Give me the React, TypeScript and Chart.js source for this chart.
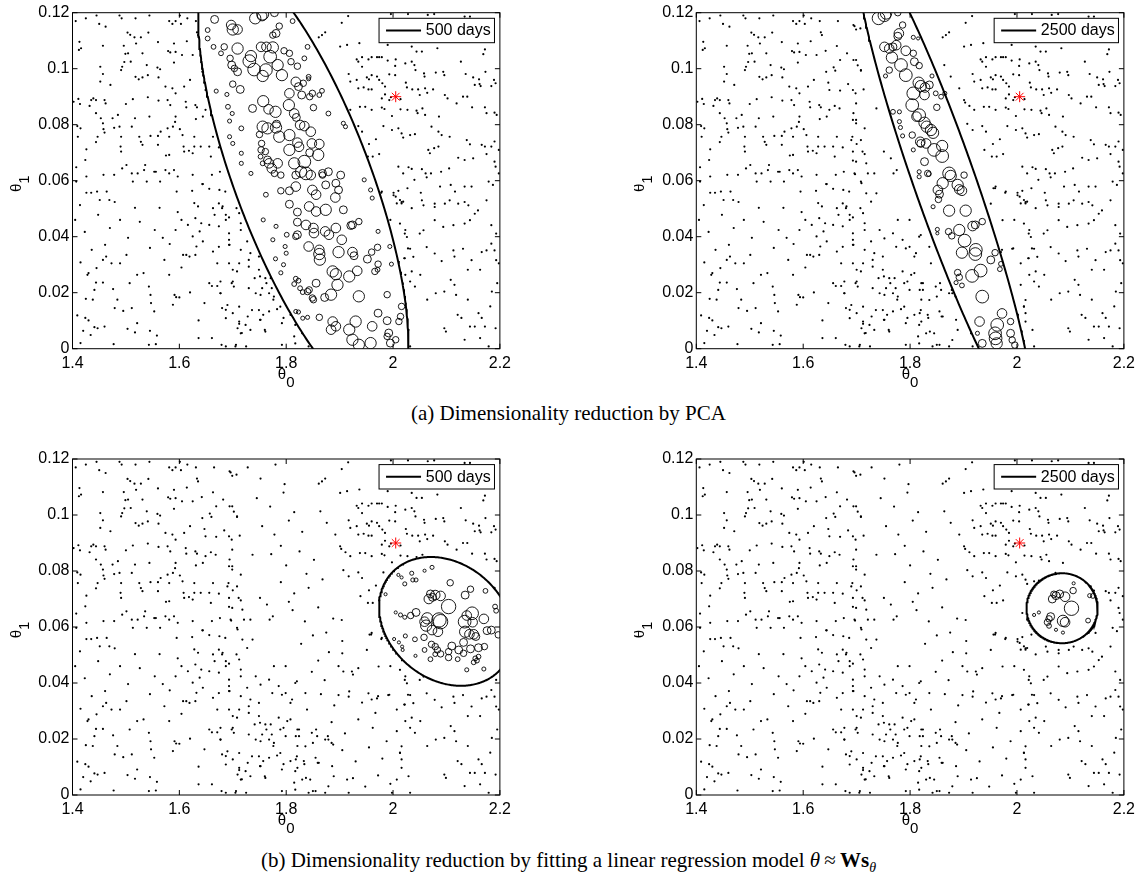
import React, { useEffect, useRef } from "react";
import { Chart, registerables } from "chart.js";
Chart.register(...registerables);

// ---------- axes ----------
const X_RANGE = [1.4, 2.2];
const Y_RANGE = [0, 0.12];
const X_STEP = 0.2;
const Y_STEP = 0.02;

// ---------- prior samples (shared by all panels) [theta0, theta1] ----------
const PRIOR_SAMPLES: number[][] = [
  [1.406,.117],[1.425,.118],[1.445,.119],[1.450,.116],[1.462,.115],[1.488,.119],[1.492,.118],[1.518,.118],[1.544,.119],[1.581,.117],[1.587,.116],[1.593,.117],[1.601,.119],[1.603,.116],[1.615,.118],[1.631,.117],[1.633,.113],[1.635,.112],[1.665,.117],[1.694,.1156],[1.699,.114],[1.707,.1144],
  [1.413,.1096],[1.416,.1073],[1.412,.1067],[1.457,.1082],[1.496,.1082],[1.503,.1129],[1.508,.1121],[1.516,.1112],[1.528,.1112],[1.542,.1129],[1.499,.1053],[1.504,.1055],[1.519,.109],[1.531,.1055],[1.560,.1095],[1.579,.1063],[1.583,.1058],[1.590,.109],[1.593,.106],[1.590,.1022],[1.605,.1049],[1.614,.1098],[1.625,.1049],[1.642,.1064],[1.663,.1081],[1.669,.1031],[1.682,.1055],[1.694,.1031],[1.702,.1012],[1.708,.0993],[1.657,.1005],[1.660,.0993],
  [1.452,.1007],[1.457,.0981],[1.452,.0954],[1.471,.0942],[1.491,.0995],[1.493,.1007],[1.497,.1024],[1.509,.1025],[1.518,.0971],[1.524,.0962],[1.531,.0969],[1.541,.0977],[1.539,.1013],[1.559,.1004],[1.564,.0998],[1.561,.0969],[1.574,.0936],[1.587,.093],[1.593,.0912],[1.609,.0936],[1.620,.096],[1.643,.0989],[1.647,.095],[1.649,.0924],[1.669,.0922],[1.684,.0945],[1.713,.0926],
  [1.402,.0882],[1.411,.0892],[1.414,.0874],[1.435,.0888],[1.432,.0867],[1.439,.0894],[1.444,.0888],[1.460,.0888],[1.462,.0876],[1.444,.0841],[1.453,.0823],[1.475,.0823],[1.485,.0835],[1.488,.0793],[1.500,.0874],[1.513,.0891],[1.517,.0823],[1.541,.0898],[1.544,.0829],[1.561,.0886],[1.578,.0888],[1.583,.087],[1.593,.0829],[1.592,.081],[1.612,.0882],[1.613,.0862],[1.630,.087],[1.633,.0862],[1.631,.082],[1.649,.0853],[1.659,.0867],[1.668,.0858],[1.694,.0841],[1.699,.0817],[1.737,.0858],
  [1.410,.0757],[1.409,.0795],[1.415,.0787],[1.426,.0712],[1.444,.0738],[1.447,.0757],[1.457,.0805],[1.458,.0784],[1.460,.0772],[1.478,.0789],[1.491,.0757],[1.490,.0722],[1.491,.0704],[1.511,.0793],[1.525,.0757],[1.528,.0739],[1.531,.0728],[1.546,.076],[1.560,.076],[1.565,.0775],[1.560,.0728],[1.578,.0787],[1.581,.0757],[1.588,.0793],[1.601,.0784],[1.606,.0763],[1.608,.0722],[1.618,.0707],[1.628,.0757],[1.628,.0722],[1.640,.0722],[1.644,.0829],[1.656,.0722],[1.663,.0757],[1.674,.0719],[1.692,.0757],[1.700,.0731],[1.715,.0787],
  [1.407,.0648],[1.424,.0674],[1.407,.0597],[1.426,.0615],[1.458,.0621],[1.478,.0621],[1.464,.0561],[1.469,.0531],[1.426,.0557],[1.435,.0557],[1.446,.0561],[1.493,.0644],[1.501,.0656],[1.511,.0626],[1.513,.0597],[1.522,.0626],[1.534,.0638],[1.536,.0656],[1.539,.0597],[1.553,.0632],[1.556,.0632],[1.564,.0597],[1.574,.0638],[1.581,.0626],[1.581,.0692],[1.575,.069],[1.590,.0638],[1.597,.0615],[1.595,.0561],[1.609,.0704],[1.625,.0698],[1.625,.0621],[1.643,.0588],[1.659,.0686],[1.661,.0621],[1.676,.0632],[1.686,.0561],[1.693,.0672],[1.697,.0623],[1.715,.0695],[1.718,.0662],[1.709,.0591],[1.733,.0626],[1.737,.0555],[1.751,.0704],[1.764,.068],[1.769,.0626],[1.775,.0638],
  [1.904,.1164],[1.916,.1188],[1.996,.1195],[2.028,.1195],[2.065,.1192],[2.077,.1195],[2.134,.1186],[2.144,.1186],[1.861,.1112],[1.867,.112],[1.873,.113],[1.901,.1079],[1.914,.1085],[1.937,.1091],[1.990,.1085],[2.035,.1079],[2.044,.1061],[2.054,.1061],[2.083,.1073],[2.127,.1025],[2.169,.1052],[2.172,.1069],
  [1.932,.1033],[1.935,.1025],[1.942,.1041],[1.954,.1033],[1.960,.1041],[1.970,.1041],[1.974,.1041],[1.979,.1041],[1.990,.1029],[2.005,.1033],[1.942,.1007],[2.004,.101],[2.023,.1019],[2.035,.1025],[2.004,.0977],[2.040,.1013],[2.042,.0995],
  [1.917,.0981],[1.920,.0954],[1.932,.096],[1.935,.093],[1.951,.0969],[1.955,.0962],[1.960,.0977],[1.970,.0972],[1.974,.096],[1.954,.0926],[1.980,.0948],[1.985,.0936],[1.993,.098],[2.024,.095],[2.058,.0983],[2.059,.0972],[2.080,.0986],[2.094,.0989],[2.096,.0977],[2.136,.0981],[2.150,.0969],[2.161,.0962],[2.162,.0945],[2.173,.0989],[2.189,.096],[2.192,.0948],
  [1.945,.0933],[1.960,.0926],[1.979,.0894],[1.985,.0908],[1.979,.0861],[1.993,.0888],[1.996,.0898],[2.014,.0891],[2.026,.0933],[2.036,.0926],[2.047,.0926],[2.050,.0906],[2.060,.093],[2.064,.0914],[2.075,.0926],[2.097,.0906],[2.102,.0894],[2.131,.09],[2.139,.09],[2.119,.0876],[2.153,.0942],[2.164,.0938],[2.184,.0938],
  [1.903,.0879],[1.911,.0867],[1.920,.0853],[1.938,.0864],[1.948,.0864],[1.960,.0853],[1.984,.0856],[1.998,.0831],[2.014,.0855],[2.027,.0853],[2.044,.085],[2.046,.0841],[2.055,.0858],[2.060,.0835],[2.086,.0829],[2.148,.0862],[2.172,.0862],[2.175,.0841],[2.190,.0843],[2.194,.0835],
  [1.907,.0803],[1.917,.0781],[1.935,.0795],[1.942,.0775],[1.955,.0731],[1.968,.0748],[1.982,.0795],[1.998,.0781],[2.010,.0787],[2.016,.0769],[2.019,.0754],[2.032,.0763],[2.041,.0766],[2.072,.0793],[2.085,.0775],[2.091,.0763],[2.106,.0757],[2.138,.0745],[2.144,.073],[2.166,.0728],[2.172,.0722],[2.184,.0722],[2.190,.074],
  [1.939,.071],[1.953,.0686],[1.962,.0686],[1.974,.0695],[2.010,.065],[2.019,.0626],[2.029,.0648],[2.035,.0642],[2.054,.0641],[2.066,.071],[2.069,.0698],[2.077,.0716],[2.085,.0722],[2.071,.0626],[2.090,.0632],[2.105,.0644],[2.122,.0682],[2.134,.0674],[2.150,.068],[2.175,.0695],[2.190,.0668],[2.192,.065],[2.198,.071],[2.108,.0585],[2.088,.0579],[2.116,.0561],[2.134,.0579],[2.147,.0579],[2.179,.0597],[2.187,.0585],[2.198,.0626],
  [1.959,.0573],[1.978,.0557],[2.001,.0557],[2.005,.0543],[2.010,.0564],[2.027,.0573],[2.052,.0557],[2.061,.0626],[2.063,.0612],
  [1.696,.1152],[1.699,.1031],[1.708,.0995],[1.693,.0924],[1.698,.0912],[1.699,.0876],[1.693,.0817],[1.699,.0805],[1.690,.0745],[1.708,.0745],[1.693,.0704],[1.699,.0668],[1.711,.0704],[1.696,.0626],[1.708,.0597],[1.721,.0626],[1.718,.0555],
  [1.864,.1013],[1.876,.0972],[1.892,.093],[1.901,.0888],
  [1.674,.0519],[1.680,.0502],[1.687,.0478],[1.707,.0502],[1.712,.0484],[1.727,.0525],[1.687,.046],[1.715,.0448],[1.693,.0412],[1.715,.0424],[1.727,.0383],[1.743,.0424],[1.752,.0394],[1.768,.0412],[1.786,.0389],[1.777,.046],[1.799,.046],[1.674,.0364],[1.693,.0371],[1.693,.0389],[1.715,.0353],[1.733,.0341],[1.712,.0305],[1.730,.0317],[1.749,.0329],[1.774,.0364],[1.792,.0358],[1.799,.0364],[1.817,.04],[1.811,.0341],[1.836,.0364],[1.820,.0406],
  [1.671,.0305],[1.693,.0305],[1.700,.0282],[1.708,.0276],[1.730,.0293],[1.749,.0282],[1.761,.0252],[1.771,.0252],[1.786,.0276],[1.789,.0234],[1.802,.0264],[1.808,.0329],[1.824,.0234],[1.839,.0305],[1.677,.024],[1.698,.0234],[1.702,.0222],[1.730,.0216],[1.743,.0198],[1.755,.0216],[1.768,.0198],[1.777,.0186],[1.799,.021],[1.824,.021],[1.836,.0174],[1.848,.0222],[1.858,.021],
  [1.677,.0198],[1.690,.0156],[1.712,.015],[1.736,.0138],[1.749,.0138],[1.768,.0133],[1.789,.015],[1.808,.0121],[1.820,.0138],[1.833,.0121],[1.855,.0133],[1.873,.0198],[1.879,.0198],[1.687,.0109],[1.712,.0097],[1.724,.0085],[1.733,.0067],[1.752,.0103],[1.761,.0061],[1.792,.0091],[1.817,.0085],[1.830,.0055],[1.845,.0055],[1.861,.0115],[1.886,.0103],[1.889,.0067],[1.879,.0031],[1.687,.0008],[1.705,.0008],[1.715,.0055],[1.792,.0014],[1.817,.0019],[1.842,.0008],[1.855,.0014],[1.873,.0008],[1.914,.0055],[1.917,.0008],
  [1.956,.0573],[1.960,.0579],[1.979,.0561],[1.995,.046],[2.007,.0519],[2.013,.0531],[2.016,.0519],[2.019,.0525],[2.023,.0424],[2.028,.0358],[1.993,.0358],[1.972,.0353],[1.960,.0341],[1.967,.0293],[2.007,.0305],[2.021,.0323],[2.023,.0264],[2.035,.0276],[2.007,.0228],[2.016,.0174],[1.988,.0192],[2.013,.015],[2.016,.0127],[2.016,.0097],[2.029,.0067],[2.007,.0055],[2.032,.0008],[1.998,.0008],[2.035,.0502],[2.040,.0603],
  [1.415,.0308],[1.430,.027],[1.428,.0264],[1.445,.0288],[1.457,.0317],[1.463,.0329],[1.473,.0305],[1.489,.0305],[1.501,.0335],[1.444,.0236],[1.457,.0236],[1.476,.0213],[1.441,.021],[1.425,.0178],[1.438,.0175],[1.409,.0119],[1.424,.011],[1.430,.0101],[1.441,.0077],[1.447,.0073],[1.460,.0079],[1.420,.0064],[1.434,.0049],[1.415,.002],[1.477,.0016],[1.479,.0145],[1.484,.0175],[1.495,.0135],[1.511,.0145],[1.503,.0071],[1.517,.0058],[1.521,.0091],[1.507,.0234],[1.521,.0264],[1.533,.027],[1.543,.0222],[1.546,.0192],[1.547,.0163],[1.553,.0133],[1.545,.0064],[1.558,.0047],[1.543,.0014],[1.556,.0016],
  [1.572,.0317],[1.581,.0264],[1.591,.0192],[1.594,.0184],[1.588,.0157],[1.600,.0183],[1.604,.029],[1.620,.0201],[1.613,.0335],[1.636,.0101],[1.647,.0163],[1.656,.0234],[1.661,.0224],[1.671,.0224],[1.677,.0198],[1.680,.0145],[1.679,.0014],[1.636,.0038],[1.661,.0038],[1.687,.0139],[1.700,.024],[1.700,.0127],[1.709,.0073],[1.712,.0089],[1.717,.0056],[1.706,.0014],[1.725,.0008],[1.728,.0115],[1.741,.0252],[1.751,.0258],[1.752,.0192],[1.763,.0234],[1.757,.0121],[1.751,.0103],[1.760,.0067],[1.773,.0216],[1.776,.0175],[1.783,.0141],[1.795,.024],[1.795,.011],[1.808,.027],[1.815,.0044],[1.821,.0234],[1.818,.021],[1.821,.0175],[1.818,.0127],[1.834,.011],[1.837,.0061],[1.821,.0097],[1.850,.0014],[1.850,.0186],[1.856,.0234],[1.859,.0115],[1.878,.021],[1.885,.0186],[1.888,.018],
  [2.013,.0151],[2.022,.0323],[2.032,.024],[2.041,.0222],[2.051,.0264],[2.064,.0175],[2.080,.0198],[2.096,.0204],[2.096,.0073],[2.099,.0061],[2.108,.0246],[2.115,.0228],[2.118,.0192],[2.121,.0121],[2.128,.011],[2.134,.0032],[2.140,.0175],[2.144,.0079],[2.153,.0079],[2.160,.0127],[2.163,.0038],[2.166,.011],[2.172,.0079],[2.179,.0008],[2.182,.0151],[2.192,.0073],[2.195,.0234],[2.198,.0305],[2.185,.0204],[2.163,.0282],[2.140,.0282],[2.115,.0329],
  [1.905,.0506],[1.951,.0518],[2.001,.0548],[2.016,.0524],[2.054,.053],[2.057,.0512],[2.078,.0518],[2.078,.0506],[2.097,.0518],[2.106,.053],[2.122,.0518],[2.134,.0524],[2.141,.0512],[2.153,.0482],[2.159,.0494],[2.175,.053],[1.907,.0441],[1.923,.0441],[1.935,.0453],[1.973,.0459],[2.013,.0447],[2.022,.0411],[2.026,.0399],[2.050,.0411],[2.057,.0423],[2.078,.0459],[2.094,.0435],[2.113,.0441],[2.134,.0447],[2.144,.0459],[2.184,.0441],[2.193,.0411],
  [1.898,.0357],[1.917,.0351],[1.954,.0363],[1.970,.0345],[1.991,.0357],[2.032,.0357],[2.063,.0363],[2.078,.034],[2.113,.0351],[2.131,.0357],[2.166,.0345],[2.175,.0351],[2.184,.0375],[2.190,.0351],[2.038,.0328],[2.091,.0313],[2.147,.0316],[2.193,.0316],
  [1.624,.0564],[1.644,.0588],[1.656,.0571],[1.675,.0567],[1.628,.052],[1.635,.0508],[1.663,.0502],[1.681,.0508],[1.666,.0478],[1.693,.0469],[1.604,.046],[1.616,.0442],[1.630,.0466],[1.641,.0448],[1.625,.0401],[1.638,.0419],[1.656,.0442],[1.674,.0437],[1.632,.0365],[1.644,.0383],[1.663,.0347],[1.694,.0371],[1.607,.0335],[1.619,.0329],[1.630,.0335],
  [1.414,.0513],[1.448,.0478],[1.479,.0524],[1.526,.0453],[1.563,.0503],[1.593,.0424],[1.423,.0417],[1.461,.0371],[1.504,.0396],[1.545,.036],[1.582,.0374],[1.436,.0353],[1.489,.046],[1.597,.0488],[1.517,.0503],[1.470,.0431],[1.554,.0424],[1.405,.046],[1.451,.0531],[1.569,.0396],
  [1.728,.117],[1.752,.113],[1.780,.118],[1.797,.111],[1.745,.106],[1.770,.103],[1.795,.108],[1.815,.101],[1.755,.096],[1.778,.093],[1.805,.098],[1.830,.094],[1.790,.089],[1.772,.086],[1.800,.082],[1.825,.087],[1.852,.084],[1.838,.079],[1.790,.076],[1.815,.072],[1.842,.074],[1.868,.077],[1.805,.069],[1.812,.066],[1.835,.062],[1.860,.067],[1.888,.063],[1.875,.058],[1.828,.054],[1.850,.057],[1.880,.051],[1.905,.055],[1.860,.048],[1.848,.044],[1.872,.041],[1.898,.046],[1.925,.043],[1.865,.036],[1.890,.032],[1.918,.037],[1.942,.033],[1.885,.026],[1.910,.022],[1.935,.027],[1.962,.024],[1.905,.016],[1.930,.012],[1.955,.017],[1.980,.013],[1.925,.006],[1.948,.003],[1.972,.007],[1.995,.004],[1.904,.0625],
];

// ---------- weighted samples [theta0, theta1, weight] ----------
const WEIGHTED_PCA_500: number[][] = [
  [1.756,.1195,5],[1.755,.1188,4],[1.778,.120,3.3],[1.742,.118,4.7],[1.666,.1176,3.3],[1.697,.1156,4],[1.700,.114,4.7],[1.709,.114,4],[1.653,.1138,2],[1.787,.1152,2.7],[1.812,.117,2],[1.781,.1126,3.3],[1.775,.112,2.7],[1.653,.1108,2],[1.664,.1078,2],[1.684,.1078,2.7],[1.678,.1055,2],[1.709,.1072,4.7],[1.753,.1078,4],[1.763,.1078,4],[1.775,.1076,4.7],[1.734,.1045,4.7],[1.770,.1043,5.3],[1.796,.1064,2.7],[1.806,.1055,2.7],[1.695,.1037,2.7],[1.698,.1013,3.3],[1.703,.1001,2.7],[1.709,.0989,3.3],[1.731,.1027,5.3],[1.740,.0997,5.3],[1.762,.0995,5.3],[1.784,.1013,4.7],[1.756,.0974,4.7],[1.792,.0977,4.7],[1.809,.1025,2.7],[1.821,.1009,2.7],[1.834,.1037,2],[1.840,.1078,2],[1.842,.0971,2],[1.842,.0964,1.7],[1.818,.0953,4],[1.823,.0936,3.3],[1.832,.0948,2.7],[1.700,.0945,2.7],[1.714,.0926,3.3],[1.689,.0908,1.7],[1.669,.092,1.7],[1.806,.0912,4],[1.829,.0906,3.3],[1.844,.09,2.7],[1.849,.0912,2.7],[1.862,.0906,2],[1.867,.0921,2],[1.757,.0884,4.7],[1.737,.0858,3.3],[1.767,.0855,4],[1.780,.0846,4.7],[1.805,.087,4.7],[1.815,.084,4],[1.819,.0826,3.3],[1.851,.0861,2.7],[1.879,.084,2],[1.691,.0864,2],[1.699,.084,1.7],[1.694,.0813,1.7],[1.716,.0787,2],[1.756,.0793,4.7],[1.765,.0787,4.7],[1.781,.079,4.7],[1.782,.0802,3.3],[1.787,.0757,4.7],[1.750,.0765,2.7],[1.806,.0763,4.7],[1.826,.0799,4],[1.834,.0795,4],[1.846,.0775,4],[1.821,.0736,4],[1.806,.071,4.7],[1.824,.0721,4],[1.848,.0733,4],[1.862,.0731,4],[1.860,.0692,4.7],[1.844,.07,3.3],[1.754,.0733,2.7],[1.753,.071,2.7],[1.752,.0686,2],[1.761,.0704,2.7],[1.765,.0674,3.3],[1.768,.0662,4],[1.784,.0662,4],[1.756,.0662,2],[1.773,.0644,4],[1.815,.0662,4.7],[1.834,.0668,5.3],[1.828,.0632,4.7],[1.837,.0626,5.3],[1.846,.062,4],[1.868,.0626,3.3],[1.879,.0632,3.3],[1.902,.062,3.3],[1.694,.0757,1.7],[1.700,.0733,1.7],[1.716,.0698,1.7],[1.716,.0662,1.7],[1.734,.0626,1.7],[1.911,.0793,1.7],[1.907,.0805,1.7],[1.790,.062,2.7],[1.778,.0626,2.7],[1.818,.062,3.3],[1.868,.062,2.7],
  [1.790,.0564,2.7],[1.806,.0564,3.3],[1.818,.0579,4],[1.849,.0567,4],[1.856,.055,4],[1.874,.0585,3.3],[1.893,.0591,3.3],[1.898,.0567,3.3],[1.892,.054,4],[1.806,.0516,3.3],[1.821,.0488,3.3],[1.843,.0508,4],[1.856,.049,4],[1.874,.0496,4.7],[1.907,.0496,3.3],[1.821,.0452,3.3],[1.837,.0442,4],[1.851,.0431,4],[1.852,.0413,4],[1.873,.0419,4],[1.880,.0407,4],[1.893,.0431,4],[1.904,.0389,4],[1.921,.044,3.3],[1.924,.0442,3.3],[1.936,.0454,2.7],[1.818,.0401,2.7],[1.821,.0407,3.3],[1.801,.0407,2],[1.842,.0365,4],[1.862,.0353,4],[1.862,.0338,4.7],[1.863,.0318,4.7],[1.898,.0345,4.7],[1.924,.0345,4],[1.927,.0332,3.3],[1.952,.032,3.3],[1.960,.0345,2.7],[1.971,.0362,2.7],[1.972,.0302,2.7],[1.966,.0276,2.7],[1.971,.0282,2],[1.887,.0276,4.7],[1.893,.0266,4.7],[1.896,.0228,4.7],[1.918,.0258,4.7],[1.933,.0278,4],[1.856,.0234,3.3],[1.818,.025,2],[1.823,.0243,2],[1.815,.0231,2],[1.826,.0216,2],[1.831,.0202,2],[1.840,.0204,2.7],[1.843,.021,2.7],[1.849,.0181,2.7],[1.851,.0175,2.7],[1.872,.0183,3.3],[1.884,.0193,4.7],[1.936,.0187,4.7],[1.989,.0193,2.7],[1.818,.0133,1.7],[1.823,.0131,1.7],[1.831,.0109,1.7],[1.840,.0112,1.7],[1.862,.0112,2.7],[1.887,.0097,4],[1.893,.008,4],[1.884,.0068,4],[1.918,.0068,4.7],[1.930,.0097,4.7],[1.961,.008,4],[1.972,.0127,3.3],[1.989,.01,3.3],[1.992,.0056,3.3],[1.989,.0044,2.7],[2.005,.0032,2.7],[1.924,.0032,4.7],[1.936,.0014,4.7],[1.958,.002,4.7],[1.995,.002,3.3],[2.011,.0097,2.7],[2.014,.0115,2.7],[2.016,.0151,2.7],[1.798,.0365,1.7],[1.800,.0341,1.7],[1.781,.0437,1.7],[1.775,.0389,1.7],[1.780,.0321,1.7],[1.795,.03,1.7],[1.790,.0271,1.7],[1.757,.046,1.7],[1.762,.055,2],[1.946,.0603,1.7],[1.958,.0567,1.7],[1.961,.0538,1.7],[1.972,.0419,1.7],[1.994,.0365,1.7],[1.997,.0302,1.7],
];

const WEIGHTED_PCA_2500: number[][] = [
  [1.741,.118,5.3],[1.752,.1191,5.3],[1.755,.1197,4.7],[1.777,.120,2.7],[1.786,.1156,2.7],[1.779,.1126,4],[1.777,.1116,3.3],[1.806,.1112,1.7],[1.815,.1108,1.3],[1.752,.1078,4],[1.761,.1072,4],[1.768,.1078,3.3],[1.774,.1084,4],[1.792,.1064,4],[1.806,.1055,2.7],[1.766,.104,4.7],[1.783,.1013,5.3],[1.808,.1025,3.3],[1.817,.1011,2.7],[1.792,.0977,5.3],[1.761,.0995,2.7],[1.754,.0974,1.7],[1.816,.095,4.7],[1.820,.0938,4.7],[1.828,.0933,4],[1.836,.0942,3.3],[1.806,.0912,5.3],[1.827,.0906,4],[1.841,.0974,1.7],[1.848,.0912,2],[1.858,.09,2],[1.865,.0912,1.7],[1.850,.0862,2.7],[1.804,.087,5.3],[1.817,.0834,5.3],[1.812,.0829,4],[1.827,.0807,4.7],[1.831,.0793,4.7],[1.839,.0781,4.7],[1.843,.0771,4.7],[1.768,.0846,2],[1.780,.0846,1.7],[1.780,.0811,1.7],[1.782,.079,1.7],[1.786,.076,1.7],[1.804,.0763,2.7],[1.819,.0739,4],[1.820,.0733,3.3],[1.806,.071,1.7],[1.830,.0733,4],[1.845,.071,5.3],[1.860,.0724,4.7],[1.860,.0688,5.3],[1.827,.0668,3.3],[1.817,.0632,1.7],[1.817,.0614,1.7],[1.833,.0626,2.7],[1.835,.0624,2],[1.873,.0626,5.3],[1.876,.0617,4.7],[1.901,.062,2.7],[1.889,.0585,4.7],[1.892,.0569,4],[1.897,.0564,4],[1.861,.0591,4.7],[1.852,.0567,4],[1.855,.0552,3.3],[1.853,.0533,2.7],[1.843,.0507,1.7],[1.873,.0493,4.7],[1.904,.0493,4.7],[1.892,.0424,4.7],[1.917,.0438,4],[1.922,.0442,3.3],[1.935,.0454,2.7],[1.872,.0418,2.7],[1.878,.0403,2.7],[1.851,.0426,1.7],[1.851,.0412,1.3],[1.902,.0386,5.3],[1.923,.0353,5.3],[1.922,.0338,5.3],[1.897,.0343,4.7],[1.951,.0317,3.3],[1.959,.0343,2.7],[1.970,.0303,2],[1.968,.0284,2],[1.932,.0279,5.3],[1.916,.026,5.3],[1.889,.0272,2.7],[1.892,.0255,2.7],[1.897,.0226,2],[1.886,.0236,1.7],[1.935,.0186,5.3],[1.972,.0126,4],[1.930,.0097,4],[1.963,.0085,5.3],[1.959,.0055,5.3],[1.960,.0037,5.3],[1.962,.0019,4.7],[1.988,.0055,3.3],[1.991,.0031,2.7],[1.996,.0013,2.7],[1.988,.0097,2.7],[1.935,.0019,3.3],[1.926,.0055,1.7],
];

const WEIGHTED_REG_500: number[][] = [
  [2.073,.0813,1.7],[2.059,.0801,1.3],[2.035,.0792,1.7],[2.010,.0786,1.3],[2.016,.0777,1.3],[2.022,.0754,1.7],[2.037,.0768,1.7],[2.043,.0768,1.7],[1.986,.0717,1.3],[2.107,.0758,2.7],[2.145,.0735,2.7],[2.135,.0714,3.3],[2.173,.0729,2],[2.070,.0718,3.3],[2.079,.0714,4],[2.067,.07,4],[2.074,.0706,3.3],[2.089,.0711,4],[2.104,.0673,6],[2.148,.0649,5.3],[2.138,.0641,4],[2.170,.0629,4],[2.191,.0673,2],[2.193,.0658,2],[2.134,.0619,5.3],[2.149,.0617,4],[2.005,.0652,1.3],[2.014,.0643,1.7],[2.022,.0635,1.7],[2.033,.0641,2.7],[2.043,.0652,3.3],[2.064,.0631,4.7],[2.059,.0619,4],[2.062,.0605,4.7],[2.086,.0625,6],[2.089,.0619,6],[2.073,.0589,4],[2.084,.0583,4],[2.135,.0583,4.7],[2.143,.0574,4],[2.151,.0574,4],[2.155,.0566,3.3],[2.176,.0587,3.3],[2.184,.0589,3.3],[2.197,.0572,2.7],[2.058,.0563,2.7],[2.023,.0568,1.7],[2.041,.0556,2],[2.002,.0557,1.3],[2.011,.0545,1.3],[2.017,.053,1.3],[2.018,.0518,1.3],[2.072,.0538,2.7],[2.079,.053,2.7],[2.083,.0518,2.7],[2.079,.0503,2],[2.059,.0518,2],[2.070,.0485,2],[2.089,.0504,2.7],[2.104,.0512,2.7],[2.110,.0532,3.3],[2.123,.0518,3.3],[2.132,.0545,3.3],[2.132,.0506,2.7],[2.121,.0485,2],[2.145,.0522,3.3],[2.160,.0526,3.3],[2.171,.053,2.7],[2.154,.0488,2],[2.157,.048,2],[2.160,.0494,2],[2.151,.0474,2],[2.170,.045,1.7],[2.138,.0447,1.7],[2.104,.0491,2.7],[2.042,.0497,1.3],
];

const WEIGHTED_REG_2500: number[][] = [
  [2.106,.0756,1.3],[2.105,.073,2.7],[2.136,.0712,1.7],[2.069,.0717,2.7],[2.073,.0712,3.3],[2.080,.0718,3.3],[2.090,.0708,4],[2.066,.07,3.3],[2.102,.0667,6],[2.041,.0652,1.3],[2.032,.0643,1.3],[2.063,.0637,3.3],[2.060,.0629,2.7],[2.057,.0617,2.7],[2.060,.0604,2],[2.086,.0622,4.7],[2.090,.0617,4],[2.133,.0623,2],[2.073,.059,1.3],[2.086,.058,1.3],[2.142,.0711,2],
];

// ---------- posterior ellipses [centre theta0, centre theta1, half-width, half-height, shear] ----------
const ELLIPSE_PCA_500 = [1.832, 0.06, 0.135, 0.08, -1.79];
const ELLIPSE_PCA_2500 = [1.864, 0.06, 0.061, 0.085, -1.8];
const ELLIPSE_REG_500 = [2.099, 0.062, 0.122, 0.023, -1.22];
const ELLIPSE_REG_2500 = [2.0844, 0.0667, 0.0666, 0.0125, 0];

const TRUE_THETA = [2.005, 0.09];
const LEGEND_LABELS = ["500 days", "2500 days", "500 days", "2500 days"];

const TICK_FONT = '"Liberation Sans", Arial, Helvetica, sans-serif';
const WEIGHT_TO_RADIUS = 1.2;

function ellipseContour(e: number[]) {
  const [cx, cy, hw, hh, shear] = e;
  const pts: { x: number; y: number }[] = [];
  const n = 360;
  for (let i = 0; i <= n; i++) {
    const t = (i / n) * 2 * Math.PI;
    const dy = hh * Math.cos(t);
    pts.push({ x: cx + shear * dy + hw * Math.sin(t), y: cy + dy });
  }
  return pts;
}

function insideEllipse(e: number[], x: number, y: number) {
  const [cx, cy, hw, hh, shear] = e;
  const v = (y - cy) / hh;
  const u = (x - cx - shear * (y - cy)) / hw;
  return u * u + v * v < 1;
}

const fmt = (v: number) => String(Math.round(v * 1000) / 1000);

const decorPlugin = {
  id: "decor",
  afterDraw(chart: any, _args: any, opts: any) {
    const { ctx, chartArea: a, scales } = chart;
    ctx.save();
    ctx.strokeStyle = "#000";
    ctx.fillStyle = "#000";
    ctx.lineWidth = 1;
    ctx.strokeRect(a.left, a.top, a.right - a.left, a.bottom - a.top);
    const tl = 5;
    ctx.beginPath();
    scales.x.ticks.forEach((t: any) => {
      const px = scales.x.getPixelForValue(t.value);
      ctx.moveTo(px, a.bottom); ctx.lineTo(px, a.bottom - tl);
      ctx.moveTo(px, a.top); ctx.lineTo(px, a.top + tl);
    });
    scales.y.ticks.forEach((t: any) => {
      const py = scales.y.getPixelForValue(t.value);
      ctx.moveTo(a.left, py); ctx.lineTo(a.left + tl, py);
      ctx.moveTo(a.right, py); ctx.lineTo(a.right - tl, py);
    });
    ctx.stroke();

    // legend box
    const label = opts.label as string;
    ctx.font = `16px ${TICK_FONT}`;
    const tw = ctx.measureText(label).width;
    const bw = 47 + tw + 3.5;
    const bh = 24.4;
    const bx = a.right - 5.4 - bw;
    const by = a.top + 5.6;
    ctx.fillStyle = "#fff";
    ctx.fillRect(bx, by, bw, bh);
    ctx.strokeStyle = "#000";
    ctx.lineWidth = 1;
    ctx.strokeRect(bx, by, bw, bh);
    ctx.beginPath();
    ctx.lineWidth = 2;
    ctx.moveTo(bx + 7, by + bh / 2);
    ctx.lineTo(bx + 42, by + bh / 2);
    ctx.stroke();
    ctx.fillStyle = "#000";
    ctx.textBaseline = "middle";
    ctx.textAlign = "left";
    ctx.fillText(label, bx + 46.7, by + bh / 2 + 0.5);

    // axis titles
    ctx.textBaseline = "alphabetic";
    ctx.font = `15px ${TICK_FONT}`;
    const wTheta = ctx.measureText("θ").width;
    const w0 = ctx.measureText("0").width;
    const cxm = (a.left + a.right) / 2;
    const gx = cxm - (wTheta + w0) / 2;
    ctx.fillText("θ", gx, a.bottom + 30);
    ctx.fillText("0", gx + wTheta, a.bottom + 38);

    const cym = (a.top + a.bottom) / 2;
    ctx.translate(a.left - 52, cym + 3);
    ctx.rotate(-Math.PI / 2);
    const w1 = ctx.measureText("1").width;
    const g = -(wTheta + w1) / 2;
    ctx.fillText("θ", g, 0);
    ctx.fillText("1", g + wTheta, 8);
    ctx.restore();
  },
};

const CANVAS_W = 506;
const CANVAS_H = 399;

const PANEL_LAYOUT = [
  { left: 10, top: 0, pad: { left: 12.5, top: 12.7, right: 14.3, bottom: 0.3 } },
  { left: 634, top: 0, pad: { left: 12.3, top: 12.7, right: 14.7, bottom: 0.3 } },
  { left: 10, top: 446, pad: { left: 12.5, top: 13, right: 14.3, bottom: 0 } },
  { left: 634, top: 446, pad: { left: 12.3, top: 13, right: 14.7, bottom: 0 } },
];

const PANEL_DATA = [
  { weighted: WEIGHTED_PCA_500, ellipse: ELLIPSE_PCA_500 },
  { weighted: WEIGHTED_PCA_2500, ellipse: ELLIPSE_PCA_2500 },
  { weighted: WEIGHTED_REG_500, ellipse: ELLIPSE_REG_500 },
  { weighted: WEIGHTED_REG_2500, ellipse: ELLIPSE_REG_2500 },
];

function Panel({ index }: { index: number }) {
  const ref = useRef<HTMLCanvasElement>(null);
  const layout = PANEL_LAYOUT[index];
  useEffect(() => {
    const { weighted, ellipse } = PANEL_DATA[index];
    const dots = PRIOR_SAMPLES.filter((p) => !insideEllipse(ellipse, p[0], p[1])).map((p) => ({ x: p[0], y: p[1] }));
    const chart = new Chart(ref.current as HTMLCanvasElement, {
      type: "scatter",
      data: {
        datasets: [
          {
            type: "scatter",
            label: "true",
            data: [{ x: TRUE_THETA[0], y: TRUE_THETA[1] }],
            pointStyle: "star",
            pointRadius: 5.5,
            borderColor: "#ff0000",
            backgroundColor: "#ff0000",
            borderWidth: 1,
            order: 0,
          },
          {
            type: "scatter",
            label: LEGEND_LABELS[index],
            data: ellipseContour(ellipse),
            showLine: true,
            pointRadius: 0,
            borderColor: "#000",
            borderWidth: 2,
            fill: false,
            tension: 0,
            clip: 0,
            order: 1,
          },
          {
            type: "bubble",
            label: "weighted",
            data: weighted.map((p) => ({ x: p[0], y: p[1], r: p[2] * WEIGHT_TO_RADIUS })),
            borderColor: "#000",
            backgroundColor: "rgba(0,0,0,0)",
            borderWidth: 0.9,
            clip: 0,
            order: 2,
          },
          {
            type: "scatter",
            label: "prior",
            data: dots,
            pointStyle: "circle",
            pointRadius: 1.1,
            borderWidth: 0,
            backgroundColor: "#000",
            order: 3,
          },
        ],
      } as any,
      options: {
        animation: false,
        responsive: false,
        devicePixelRatio: 1,
        events: [],
        layout: { padding: layout.pad },
        plugins: {
          legend: { display: false },
          tooltip: { enabled: false },
          decor: { label: LEGEND_LABELS[index] },
        } as any,
        scales: {
          x: {
            type: "linear",
            min: X_RANGE[0],
            max: X_RANGE[1],
            grid: { display: false, drawTicks: false },
            border: { display: false },
            ticks: {
              stepSize: X_STEP,
              autoSkip: false,
              maxRotation: 0,
              padding: 5,
              color: "#000",
              font: { family: TICK_FONT, size: 16 },
              callback: (v: any) => fmt(Number(v)),
            },
            afterFit: (s: any) => { s.height = 50; },
          },
          y: {
            type: "linear",
            min: Y_RANGE[0],
            max: Y_RANGE[1],
            grid: { display: false, drawTicks: false },
            border: { display: false },
            ticks: {
              stepSize: Y_STEP,
              autoSkip: false,
              padding: 3,
              color: "#000",
              font: { family: TICK_FONT, size: 16 },
              callback: (v: any) => fmt(Number(v)),
            },
            afterFit: (s: any) => { s.width = 50; },
          },
        },
      } as any,
      plugins: [decorPlugin as any],
    });
    return () => chart.destroy();
  }, [index]);
  return (
    <canvas
      ref={ref}
      width={CANVAS_W}
      height={CANVAS_H}
      style={{ position: "absolute", left: layout.left, top: layout.top, width: CANVAS_W, height: CANVAS_H }}
    />
  );
}

const captionStyle: React.CSSProperties = {
  position: "absolute",
  left: 0,
  width: 1137,
  textAlign: "center",
  fontFamily: '"Liberation Serif", "Times New Roman", serif',
  fontSize: 21,
  lineHeight: "24px",
  color: "#000",
  whiteSpace: "nowrap",
};

export default function App() {
  return (
    <div style={{ position: "absolute", left: 0, top: 0, width: 1137, height: 872, overflow: "hidden", background: "#fff" }}>
      {[0, 1, 2, 3].map((i) => (
        <Panel key={i} index={i} />
      ))}
      <div style={{ ...captionStyle, top: 401 }}>(a) Dimensionality reduction by PCA</div>
      <div style={{ ...captionStyle, top: 848 }}>
        (b) Dimensionality reduction by fitting a linear regression model <i>θ</i>&thinsp;≈&thinsp;<b>Ws</b>
        <sub style={{ fontSize: 14, lineHeight: 0 }}>
          <i>θ</i>
        </sub>
      </div>
    </div>
  );
}
